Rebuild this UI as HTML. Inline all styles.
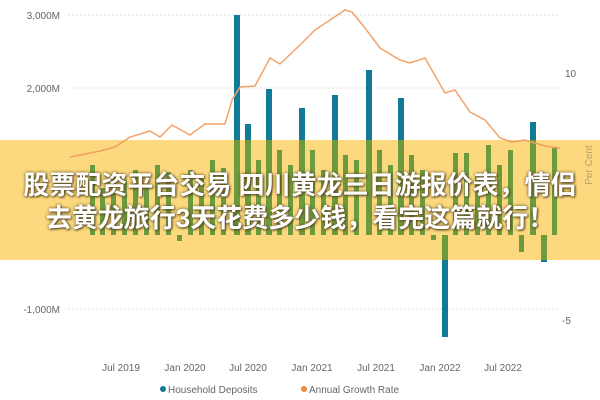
<!DOCTYPE html>
<html><head><meta charset="utf-8"><style>
body{margin:0;width:600px;height:400px;background:#fff;overflow:hidden;position:relative;font-family:"Liberation Sans",sans-serif}
svg{position:absolute;left:0;top:0}
.t{position:absolute;left:0;width:600px;text-align:center;color:#fff;font-weight:bold;font-size:26px;line-height:30px;font-family:"Liberation Sans","Noto Sans CJK SC",sans-serif;text-shadow:0 0 3px #5a4a20,1px 1px 2px #5a4a20;white-space:nowrap}
</style></head><body>
<svg width="600" height="400" viewBox="0 0 600 400">
<g stroke="#ddd" stroke-dasharray="2,2" stroke-width="1">
<line x1="68" y1="15" x2="558" y2="15"/><line x1="68" y1="88" x2="558" y2="88"/>
<line x1="68" y1="161" x2="558" y2="161"/><line x1="68" y1="235" x2="558" y2="235"/><line x1="68" y1="309" x2="558" y2="309"/>
</g>
<g font-size="10" fill="#666" font-family="Liberation Sans,sans-serif">
<text x="60" y="19" text-anchor="end">3,000M</text><text x="60" y="92" text-anchor="end">2,000M</text>
<text x="60" y="165" text-anchor="end">1,000M</text><text x="60" y="239" text-anchor="end">0M</text><text x="60" y="313" text-anchor="end">-1,000M</text>
<text x="565" y="77">10</text><text x="565" y="160">5</text><text x="565" y="242">0</text><text x="562" y="324">-5</text>
<g text-anchor="middle"><text x="121" y="371">Jul 2019</text><text x="185" y="371">Jan 2020</text><text x="248" y="371">Jul 2020</text><text x="312" y="371">Jan 2021</text><text x="376" y="371">Jul 2021</text><text x="440" y="371">Jan 2022</text><text x="503" y="371">Jul 2022</text></g>
<circle cx="163" cy="389" r="3" fill="#117a96"/><text x="168" y="393">Household Deposits</text>
<circle cx="304" cy="389" r="3" fill="#f08a3c"/><text x="309" y="393">Annual Growth Rate</text>
</g>
<defs><clipPath id="band"><rect x="0" y="140" width="600" height="120"/></clipPath></defs>
<g id="bars" fill="#117a96">
<rect x="234" y="15" width="6" height="220"/><rect x="245" y="124" width="6" height="111"/>
<rect x="266" y="89" width="6" height="146"/><rect x="299" y="108" width="6" height="127"/>
<rect x="332" y="95" width="6" height="140"/><rect x="366" y="70" width="6" height="165"/>
<rect x="398" y="98" width="6" height="137"/><rect x="442" y="235" width="6" height="102"/>
<rect x="530" y="122" width="6" height="113"/><rect x="541" y="235" width="6" height="27"/>
</g>
<path d="M70,157 L100,151 L115,147 L130,137 L150,131 L160,137 L172,125 L190,135 L205,124 L225,124 L232,100 L240,87 L255,86 L270,58 L280,64 L300,45 L315,30 L330,20 L345,10 L352,12 L365,28 L380,48 L400,60 L410,63 L425,58 L445,93 L455,90 L470,112 L485,120 L500,138 L512,142 L525,140 L545,146 L560,148" fill="none" stroke="#f3a36a" stroke-width="1.5"/>
<rect x="0" y="140" width="600" height="120" fill="#fcd97e"/>
<g clip-path="url(#band)" fill="#6d9a3c">
<rect x="234" y="15" width="6" height="220"/><rect x="245" y="124" width="6" height="111"/>
<rect x="266" y="89" width="6" height="146"/><rect x="299" y="108" width="6" height="127"/>
<rect x="332" y="95" width="6" height="140"/><rect x="366" y="70" width="6" height="165"/>
<rect x="398" y="98" width="6" height="137"/><rect x="442" y="235" width="6" height="102"/>
<rect x="530" y="122" width="6" height="113"/><rect x="541" y="235" width="6" height="27"/>
<rect x="90" y="165" width="5" height="70"/><rect x="100" y="188" width="5" height="47"/><rect x="111" y="175" width="5" height="60"/>
<rect x="122" y="180" width="5" height="55"/><rect x="133" y="170" width="5" height="65"/><rect x="144" y="185" width="5" height="50"/>
<rect x="155" y="165" width="5" height="70"/><rect x="166" y="172" width="5" height="63"/><rect x="177" y="235" width="5" height="6"/>
<rect x="188" y="170" width="5" height="65"/><rect x="199" y="178" width="5" height="57"/><rect x="210" y="160" width="5" height="75"/>
<rect x="221" y="168" width="5" height="67"/><rect x="256" y="160" width="5" height="75"/><rect x="277" y="150" width="5" height="85"/>
<rect x="288" y="165" width="5" height="70"/><rect x="310" y="150" width="5" height="85"/><rect x="321" y="170" width="5" height="65"/>
<rect x="343" y="155" width="5" height="80"/><rect x="354" y="160" width="5" height="75"/><rect x="377" y="150" width="5" height="85"/>
<rect x="388" y="165" width="5" height="70"/><rect x="409" y="155" width="5" height="80"/><rect x="420" y="170" width="5" height="65"/>
<rect x="431" y="235" width="5" height="5"/><rect x="453" y="153" width="5" height="82"/><rect x="464" y="153" width="5" height="82"/>
<rect x="475" y="175" width="5" height="60"/><rect x="486" y="145" width="5" height="90"/><rect x="497" y="165" width="5" height="70"/>
<rect x="508" y="150" width="5" height="85"/><rect x="519" y="235" width="5" height="17"/><rect x="552" y="148" width="5" height="87"/>
</g>
<g clip-path="url(#band)" fill="none" stroke="#f0a060" stroke-width="1.5">
<path d="M70,157 L100,151 L115,147 L130,137"/>
<path d="M485,120 L500,138 L512,142 L525,140 L545,146 L560,148"/>
</g>
<text x="592" y="165" font-size="10" fill="#b8a070" text-anchor="middle" transform="rotate(-90 592 165)" font-family="Liberation Sans,sans-serif">Per Cent</text>
</svg>
<div class="t" style="top:170px">股票配资平台交易 四川黄龙三日游报价表，情侣</div>
<div class="t" style="top:203px">去黄龙旅行3天花费多少钱，看完这篇就行！</div>
</body></html>
